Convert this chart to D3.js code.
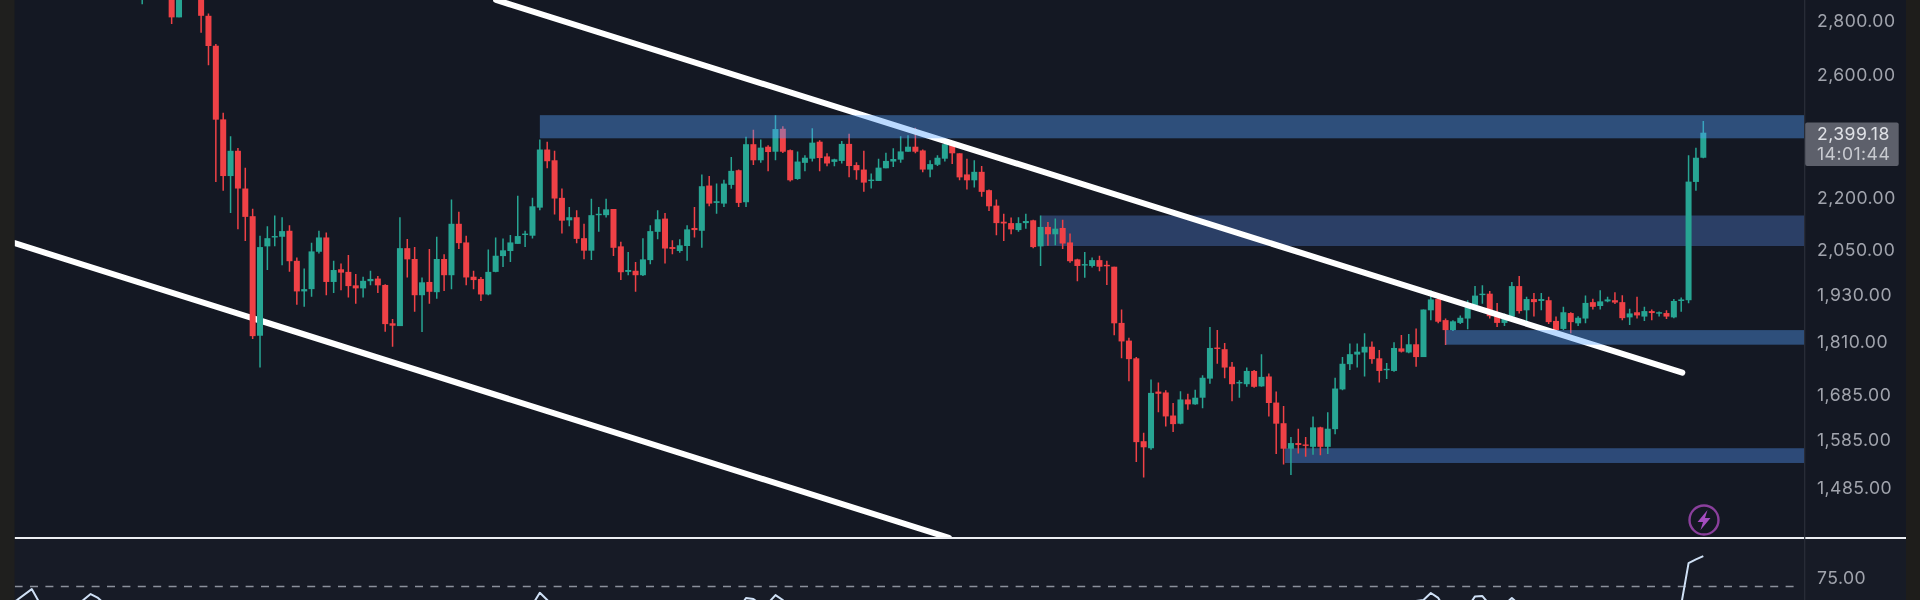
<!DOCTYPE html>
<html>
<head>
<meta charset="utf-8">
<script src="https://cdn.jsdelivr.net/npm/d3@7/dist/d3.min.js"></script>
<style>
html,body{margin:0;padding:0;background:#151924;overflow:hidden}
svg{display:block;filter:blur(0.65px)}
text{font-family:Inter,"Noto Sans",sans-serif;letter-spacing:0.45px}
</style>
</head>
<body>
<svg id="chart" width="1920" height="600"></svg>
<script>
const opens = [
2920,2960,2990,2970,2920,2806,2930,2970,2950,2812,
2700,2443,2262,2341,2224,2142,1821,2056,2081,2083,
2100,2016,1934,1940,2041,2081,1959,1993,1986,1950,
1942,1961,1968,1951,1852,1845,2051,2021,1924,1959,
1932,2021,1977,2120,2067,1973,1967,1926,1986,2029,
2043,2063,2088,2086,2167,2345,2311,2196,2130,2139,
2079,2044,2145,2145,2163,2056,1986,1989,1977,2018,
2097,2135,2054,2043,2057,2108,2100,2233,2181,2179,
2235,2280,2183,2362,2311,2354,2338,2412,2343,2253,
2303,2316,2370,2323,2306,2309,2363,2296,2282,2247,
2247,2286,2307,2313,2338,2354,2342,2282,2297,2316,
2362,2333,2267,2249,2275,2219,2173,2126,2122,2102,
2122,2130,2056,2111,2090,2108,2067,2020,2004,2002,
2018,2005,2000,1853,1809,1766,1578,1563,1688,1686,
1634,1616,1670,1659,1674,1718,1792,1788,1746,1707,
1705,1736,1700,1723,1663,1617,1562,1574,1571,1566,
1608,1566,1604,1693,1752,1775,1780,1794,1766,1738,
1736,1790,1780,1800,1769,1885,1914,1860,1835,1853,
1864,1898,1925,1928,1872,1853,1869,1948,1885,1914,
1909,1911,1858,1838,1878,1852,1864,1906,1896,1908,
1911,1906,1867,1880,1869,1883,1877,1878,1867,1909,1911,2244,2319];
const highs = [
2990,3000,3030,3010,2950,2960,2990,3010,2980,2821,
2706,2465,2388,2350,2288,2164,2086,2113,2144,2139,
2116,2025,1995,2066,2100,2095,2016,2009,2032,1980,
1973,1989,1975,1953,1863,2139,2077,2054,1971,2049,
2083,2034,2191,2155,2086,1989,1972,2047,2081,2078,
2088,2202,2100,2196,2377,2370,2341,2224,2169,2159,
2120,2193,2169,2193,2163,2069,2040,2013,2079,2116,
2159,2151,2073,2076,2116,2169,2267,2262,2239,2251,
2321,2282,2386,2409,2377,2359,2457,2420,2345,2339,
2327,2414,2375,2333,2316,2372,2396,2305,2341,2270,
2316,2335,2349,2388,2391,2415,2345,2311,2327,2373,
2370,2333,2316,2311,2293,2221,2191,2149,2138,2139,
2149,2132,2144,2125,2135,2132,2092,2022,2040,2025,
2030,2016,2000,1887,1816,1769,1596,1716,1709,1691,
1662,1689,1683,1692,1726,1843,1835,1803,1757,1714,
1744,1738,1776,1730,1688,1655,1587,1605,1587,1632,
1609,1641,1720,1769,1802,1802,1827,1807,1786,1755,
1805,1823,1825,1839,1887,1937,1924,1864,1860,1872,
1911,1948,1950,1935,1904,1877,1959,1975,1920,1930,
1930,1920,1869,1894,1880,1870,1923,1915,1937,1920,
1932,1924,1889,1920,1894,1887,1882,1885,1914,1918,2327,2351,2438];
const lows = [
2856,2930,2950,2940,2781,2806,2890,2900,2748,2629,
2244,2217,2151,2104,2071,1813,1744,1991,2056,2004,
1986,1899,1894,1920,2036,1924,1930,1937,1918,1902,
1918,1950,1930,1831,1794,1845,1971,1881,1830,1902,
1915,1935,1940,2049,1950,1940,1909,1924,1985,1999,
2013,2063,2054,2078,2159,2286,2147,2092,2113,2065,
2020,2018,2097,2138,2029,1964,1977,1933,1975,2007,
2076,2009,2034,2038,2016,2081,2052,2171,2149,2169,
2223,2169,2169,2296,2303,2277,2311,2334,2245,2251,
2277,2307,2277,2292,2292,2301,2258,2251,2214,2224,
2247,2286,2290,2303,2338,2333,2274,2258,2293,2307,
2299,2249,2221,2227,2199,2157,2087,2071,2090,2097,
2106,2051,2002,2058,2059,2049,2011,1961,1970,1998,
1988,1951,1822,1766,1712,1534,1502,1560,1641,1610,
1598,1615,1647,1658,1650,1706,1753,1719,1666,1674,
1699,1697,1699,1632,1551,1529,1507,1552,1545,1549,
1548,1551,1593,1691,1738,1744,1723,1753,1709,1717,
1734,1780,1778,1746,1769,1860,1852,1798,1833,1850,
1837,1894,1902,1864,1843,1845,1867,1877,1853,1869,
1885,1850,1822,1835,1827,1845,1852,1887,1887,1906,
1901,1860,1848,1864,1858,1860,1869,1863,1865,1881,1903,2217,2317];
const closes = [
2960,2990,2970,2950,2806,2930,2970,2950,2812,2699,
2442,2262,2341,2224,2140,1820,2054,2079,2085,2099,
2015,1934,1940,2042,2081,1959,1991,1984,1948,1942,
1962,1967,1950,1850,1846,2051,2020,1924,1958,1933,
2021,1977,2120,2065,1971,1964,1926,1986,2030,2045,
2067,2085,2092,2171,2345,2308,2194,2129,2139,2077,
2044,2145,2149,2162,2052,1985,1991,1977,2020,2099,
2133,2050,2049,2059,2104,2102,2231,2179,2186,2239,
2278,2181,2362,2311,2351,2337,2411,2338,2249,2307,
2319,2367,2318,2301,2314,2363,2293,2280,2242,2251,
2288,2309,2315,2339,2354,2338,2282,2299,2319,2362,
2333,2258,2249,2275,2214,2171,2122,2121,2104,2122,
2128,2054,2111,2090,2106,2064,2015,2002,2007,2018,
2000,2002,1852,1807,1764,1576,1565,1685,1683,1632,
1615,1670,1659,1674,1720,1791,1789,1744,1705,1710,
1736,1699,1722,1662,1616,1562,1574,1570,1568,1608,
1566,1605,1695,1753,1776,1782,1794,1764,1736,1741,
1791,1782,1800,1769,1887,1913,1856,1835,1857,1866,
1898,1923,1928,1870,1853,1870,1948,1883,1914,1906,
1914,1855,1835,1880,1855,1866,1904,1894,1908,1913,
1905,1865,1877,1872,1883,1878,1880,1869,1909,1913,2245,2319,2399.18];

const priceTicks = [2800,2600,2200,2050,1930,1810,1685,1585,1485];
const lastPriceLabel = "2,399.18";
const countdownLabel = "14:01:44";

// zones: [first bar, upper price, lower price]
const zoneStart = [54,122,177,155.2];
const zoneHigh  = [2457,2144,1835,1563];
const zoneLow   = [2381,2057,1799,1532];
const zoneEnd = 225.7;

// trend lines: bar and price of each end
const upperBars = [48.05,209.15],   upperPrices = [2873,1732];
const lowerBars = [-17.33,109.56], lowerPrices = [2065,1384];

// oscillator
const rsiBars = [-22,-17,-15,-14,-12,-8,-7,-6,-5,20,53,54,55,58,80,82,83,84,85,86,87,88,120,174,175,176,177,180,181,182,183,185,186,187,200,208,209,210,211,212];
const rsiVals = [60,69.8,74,69,62,69.8,72.1,70.6,68,55,68,72.6,69.8,60,62,70.6,70.2,68,68.6,71.7,69.8,66,50,69.8,72.5,70.6,66,67,71.2,71.3,68,68,70.6,68,55,54,68,84,85.4,86.7];
const rsiLevel = 75;

const W = 1920, H = 600;
const plotL = 14.6, axisX = 1804.7, stripR = 1906, paneY = 538;
const svg = d3.select("#chart");

const x = d3.scaleLinear().domain([0,212]).range([142.2,1703.3]);
const y = d3.scaleLog().domain([1497,2796]).range([480,20]);
const r = d3.scaleLinear().domain([75,85]).range([586.5,560.5]);

const GREEN = "#27a593", RED = "#ef4146";
const bars = d3.range(opens.length).map(i => ({i,o:opens[i],h:highs[i],l:lows[i],c:closes[i]}));

svg.append("rect").attr("width",W).attr("height",H).attr("fill","#141823");
svg.append("rect").attr("x",0).attr("y",paneY).attr("width",W).attr("height",H-paneY).attr("fill","#171b26");

const defs = svg.append("defs");
defs.append("clipPath").attr("id","plot").append("rect").attr("x",plotL).attr("y",0).attr("width",axisX-plotL).attr("height",paneY);
defs.append("clipPath").attr("id","pane").append("rect").attr("x",plotL).attr("y",paneY).attr("width",axisX-plotL).attr("height",H-paneY);

const plot = svg.append("g").attr("clip-path","url(#plot)");

function zones(g, idx, fill){
  g.selectAll(null).data(idx).join("rect")
    .attr("x",k=>x(zoneStart[k]))
    .attr("width",k=>x(zoneEnd)-x(zoneStart[k]))
    .attr("y",k=>y(zoneHigh[k]))
    .attr("height",k=>y(zoneLow[k])-y(zoneHigh[k]))
    .attr("fill",fill);
}
function trend(g, bs, ps){
  g.append("line")
   .attr("x1",x(bs[0])).attr("y1",y(ps[0]))
   .attr("x2",x(bs[1])).attr("y2",y(ps[1]))
   .attr("stroke","#ffffff").attr("stroke-width",6).attr("stroke-linecap","round");
}

zones(plot,[1],"#2b3f66");
zones(plot,[3],"#2d4a78");
trend(plot,lowerBars,lowerPrices);

const candle = plot.append("g").selectAll("g").data(bars).join("g");
candle.append("line")
  .attr("x1",d=>x(d.i)).attr("x2",d=>x(d.i))
  .attr("y1",d=>y(d.h)).attr("y2",d=>y(d.l))
  .attr("stroke",d=>d.c>=d.o?GREEN:RED).attr("stroke-width",1.5);
candle.append("rect")
  .attr("x",d=>x(d.i)-3).attr("width",6)
  .attr("y",d=>y(Math.max(d.o,d.c)))
  .attr("height",d=>Math.max(1.4,Math.abs(y(d.o)-y(d.c))))
  .attr("fill",d=>d.c>=d.o?GREEN:RED);

trend(plot,upperBars,upperPrices);
zones(plot,[0,2],"rgba(86,162,255,0.4)");

// oscillator pane
const pane = svg.append("g").attr("clip-path","url(#pane)");
pane.append("line").attr("x1",plotL).attr("x2",1799).attr("y1",r(rsiLevel)).attr("y2",r(rsiLevel))
  .attr("stroke","#8b909b").attr("stroke-width",1.6).attr("stroke-dasharray","8 7.4");
pane.append("path")
  .attr("d",d3.line().x(k=>x(rsiBars[k])).y(k=>r(rsiVals[k]))(d3.range(rsiBars.length)))
  .attr("fill","none").attr("stroke","#cfe0f5").attr("stroke-width",2).attr("stroke-linejoin","round");

// pane separator
svg.append("line").attr("x1",plotL).attr("x2",stripR).attr("y1",paneY).attr("y2",paneY)
  .attr("stroke","#eceef2").attr("stroke-width",2);

// axis separator
svg.append("line").attr("x1",axisX).attr("x2",axisX).attr("y1",0).attr("y2",H)
  .attr("stroke","#2b2f3a").attr("stroke-width",1.2);

// axes
const axisStyle = g => {
  g.select(".domain").remove();
  g.selectAll("text").attr("fill","#a1a4ad").attr("font-size",17.6).attr("font-family","Inter");
};
svg.append("g").attr("transform","translate(1817,1.5)")
  .call(d3.axisRight(y).tickValues(priceTicks).tickFormat(d3.format(",.2f")).tickSize(0).tickPadding(0))
  .call(axisStyle);
svg.append("g").attr("transform","translate(1817,-9)")
  .call(d3.axisRight(r).tickValues([rsiLevel]).tickFormat(d3.format(".2f")).tickSize(0).tickPadding(0))
  .call(axisStyle);

// last price tag
svg.append("rect").attr("x",axisX+0.5).attr("y",122.5).attr("width",93.5).attr("height",43.5).attr("rx",2).attr("fill","#5d606b");
svg.append("text").attr("x",1817).attr("y",133.5).attr("dy","0.36em").attr("fill","#dfe1e6").attr("font-size",17.6).text(lastPriceLabel);
svg.append("text").attr("x",1817).attr("y",153.5).attr("dy","0.36em").attr("fill","#c8cad0").attr("font-size",17.6).text(countdownLabel);

// bolt marker
const bolt = svg.append("g").attr("transform","translate(1704,520)");
bolt.append("circle").attr("r",14.5).attr("fill","none").attr("stroke","#8a3f9c").attr("stroke-width",2.4);
bolt.append("path").attr("d","M3.5,-10 L-6.5,2 L-1,2 L-3.5,10 L6.5,-2 L1,-2 Z").attr("fill","#a54dc0");

// bezel strips
svg.append("rect").attr("x",0).attr("y",0).attr("width",plotL).attr("height",H).attr("fill","#1f1f1e");
svg.append("rect").attr("x",stripR).attr("y",0).attr("width",W-stripR).attr("height",H).attr("fill","#1e1d1b");
</script>
</body>
</html>
